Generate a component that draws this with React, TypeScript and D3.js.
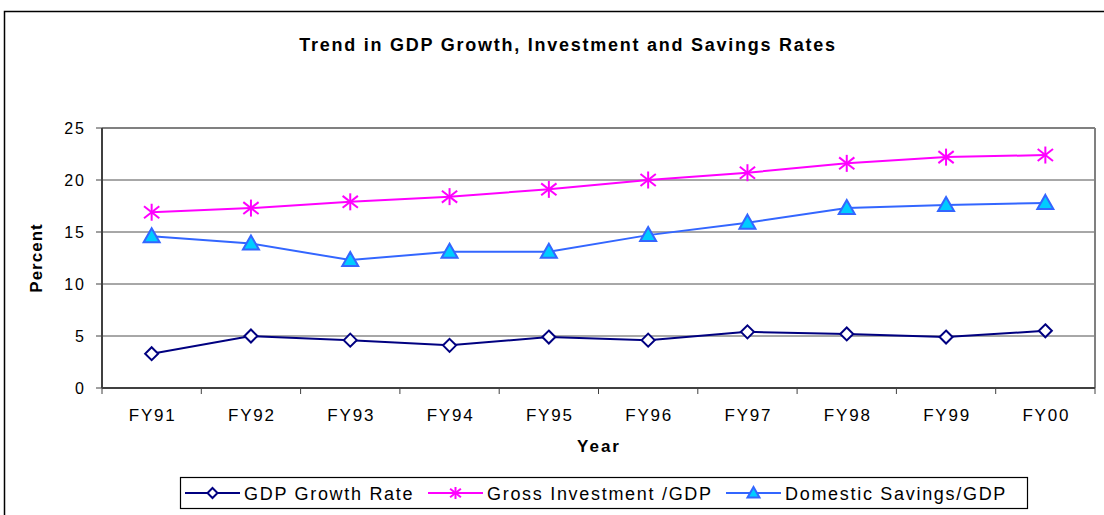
import React from "react";
import * as d3 from "d3";

const categories = ["FY91", "FY92", "FY93", "FY94", "FY95", "FY96", "FY97", "FY98", "FY99", "FY00"];
const gdpGrowth = [3.3, 5.0, 4.6, 4.1, 4.9, 4.6, 5.4, 5.2, 4.9, 5.5];
const grossInvestment = [16.9, 17.3, 17.9, 18.4, 19.1, 20.0, 20.7, 21.6, 22.2, 22.4];
const domesticSavings = [14.6, 13.9, 12.3, 13.1, 13.1, 14.7, 15.9, 17.3, 17.6, 17.8];
const yTicks = [0, 5, 10, 15, 20, 25];
const seriesNames = ["GDP Growth Rate", "Gross Investment /GDP", "Domestic Savings/GDP"];

const W = 1104;
const H = 515;
const plot = { left: 102, right: 1095, top: 128, bottom: 388 };
const font = "Arial, 'Liberation Sans', Helvetica, sans-serif";

const NAVY = "#000080";
const MAGENTA = "#FF00FF";
const BLUE = "#3366FF";
const CYAN = "#00CCFF";

function Diamond({ x, y, r = 6.5 }: { x: number; y: number; r?: number }) {
  return (
    <path
      d={`M${x},${y - r}L${x + r},${y}L${x},${y + r}L${x - r},${y}Z`}
      fill="white"
      stroke={NAVY}
      strokeWidth={2}
    />
  );
}

function Star({ x, y, r = 8.5 }: { x: number; y: number; r?: number }) {
  const d = r * 0.9;
  return (
    <g stroke={MAGENTA} strokeWidth={2}>
      <line x1={x} y1={y - r} x2={x} y2={y + r} />
      <line x1={x - d} y1={y - d * 0.78} x2={x + d} y2={y + d * 0.78} />
      <line x1={x - d} y1={y + d * 0.78} x2={x + d} y2={y - d * 0.78} />
    </g>
  );
}

function Triangle({ x, y, r = 8 }: { x: number; y: number; r?: number }) {
  return (
    <path
      d={`M${x},${y - r}L${x + r},${y + r * 0.75}L${x - r},${y + r * 0.75}Z`}
      fill={CYAN}
      stroke={BLUE}
      strokeWidth={2}
      strokeLinejoin="miter"
    />
  );
}

export default function App() {
  const x = d3.scaleBand<string>().domain(categories).range([plot.left, plot.right]);
  const y = d3.scaleLinear().domain([0, 25]).range([plot.bottom, plot.top]);
  const cx = (c: string) => (x(c) as number) + x.bandwidth() / 2;
  const line = d3
    .line<number>()
    .x((_, i) => cx(categories[i]))
    .y((v) => y(v));

  const legendY = 493;
  const legendItems = [
    { name: seriesNames[0], color: NAVY, lx: 185, lx2: 240, tx: 244, marker: "d" },
    { name: seriesNames[1], color: MAGENTA, lx: 428, lx2: 483, tx: 487, marker: "s" },
    { name: seriesNames[2], color: BLUE, lx: 726, lx2: 781, tx: 785, marker: "t" },
  ];

  return (
    <svg width={W} height={H} style={{ position: "absolute", left: 0, top: 0 }} fontFamily={font}>
      <rect x={0} y={0} width={W} height={H} fill="white" />
      {/* outer chart border */}
      <path d={`M4.5,${H}L4.5,11.5L${W},11.5`} fill="none" stroke="#000" strokeWidth={1.5} />

      <text x={568} y={51} textAnchor="middle" fontSize={18} fontWeight="bold" letterSpacing={1.75}>
        Trend in GDP Growth, Investment and Savings Rates
      </text>

      {/* gridlines */}
      {yTicks.map((t) => (
        <line
          key={t}
          x1={plot.left}
          x2={plot.right}
          y1={y(t)}
          y2={y(t)}
          stroke={t === 25 ? "#808080" : "#505050"}
          strokeWidth={t === 25 ? 2 : 1}
        />
      ))}
      {/* plot border right */}
      <line x1={plot.right} x2={plot.right} y1={plot.top} y2={plot.bottom} stroke="#808080" strokeWidth={2} />
      {/* axes */}
      <line x1={plot.left} x2={plot.left} y1={plot.top} y2={plot.bottom} stroke="#404040" strokeWidth={2} />
      <line x1={plot.left} x2={plot.right} y1={plot.bottom} y2={plot.bottom} stroke="#404040" strokeWidth={2} />

      {/* y ticks */}
      {yTicks.map((t) => (
        <g key={"yt" + t}>
          <line x1={plot.left - 6} x2={plot.left} y1={y(t)} y2={y(t)} stroke="#404040" strokeWidth={1} />
          <text x={86} y={y(t) + 6} textAnchor="end" fontSize={16} letterSpacing={2}>
            {t}
          </text>
        </g>
      ))}

      {/* x ticks */}
      {categories.concat(["_end"]).map((c, i) => {
        const xp = i < categories.length ? (x(c) as number) : plot.right;
        return <line key={"xt" + i} x1={xp} x2={xp} y1={plot.bottom} y2={plot.bottom + 6} stroke="#404040" strokeWidth={1} />;
      })}
      {categories.map((c) => (
        <text key={"xl" + c} x={cx(c) + 1} y={421} textAnchor="middle" fontSize={17} letterSpacing={1.8}>
          {c}
        </text>
      ))}

      <text x={599} y={452} textAnchor="middle" fontSize={17} fontWeight="bold" letterSpacing={2}>
        Year
      </text>
      <text transform={`translate(42,258) rotate(-90)`} textAnchor="middle" fontSize={17} fontWeight="bold" letterSpacing={1}>
        Percent
      </text>

      {/* series lines */}
      <path d={line(domesticSavings) || ""} fill="none" stroke={BLUE} strokeWidth={2} />
      <path d={line(grossInvestment) || ""} fill="none" stroke={MAGENTA} strokeWidth={2} />
      <path d={line(gdpGrowth) || ""} fill="none" stroke={NAVY} strokeWidth={2} />

      {domesticSavings.map((v, i) => (
        <Triangle key={"t" + i} x={cx(categories[i])} y={y(v)} />
      ))}
      {grossInvestment.map((v, i) => (
        <Star key={"s" + i} x={cx(categories[i])} y={y(v)} />
      ))}
      {gdpGrowth.map((v, i) => (
        <Diamond key={"d" + i} x={cx(categories[i])} y={y(v)} />
      ))}

      {/* legend */}
      <rect x={180.5} y={477.5} width={847} height={31} fill="white" stroke="#000" strokeWidth={1.2} />
      {legendItems.map((it) => (
        <g key={it.name}>
          <line x1={it.lx} x2={it.lx2} y1={legendY} y2={legendY} stroke={it.color} strokeWidth={2} />
          {it.marker === "d" && <Diamond x={(it.lx + it.lx2) / 2} y={legendY} r={5} />}
          {it.marker === "s" && <Star x={(it.lx + it.lx2) / 2} y={legendY} r={6} />}
          {it.marker === "t" && <Triangle x={(it.lx + it.lx2) / 2} y={legendY} r={6} />}
          <text x={it.tx} y={legendY + 6.5} fontSize={18} letterSpacing={1.7}>
            {it.name}
          </text>
        </g>
      ))}
    </svg>
  );
}
